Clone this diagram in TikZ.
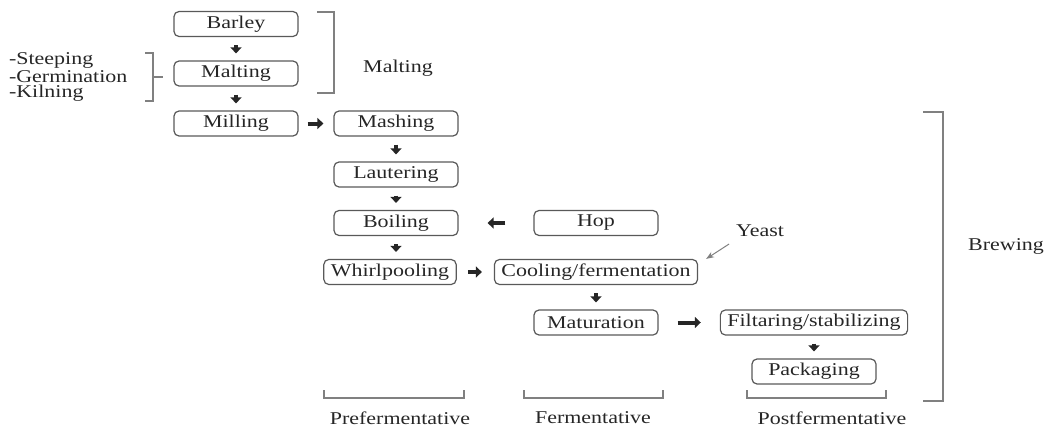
\documentclass[tikz,border=0pt]{standalone}
\usepackage{fontspec}
\setmainfont{Liberation Serif}[FakeStretch=1.22]
\usetikzlibrary{arrows.meta}
\definecolor{boxgray}{gray}{0.35}
\definecolor{txtgray}{gray}{0.15}

\begin{document}
\begin{tikzpicture}[x=0.5pt,y=-0.5pt,
    every node/.style={font=\fontsize{9}{7}\selectfont, text=txtgray},
    proc/.style={draw=boxgray, line width=0.6pt, rounded corners=2.5pt, minimum width=62pt, minimum height=12.5pt, inner xsep=3.5pt, inner ysep=0pt},
    blk/.style={line width=2pt, -{Triangle[length=3pt,width=5.5pt]}, draw=black!85},
    dn/.style={blk, shorten <=4pt, shorten >=3.5pt},
    brk/.style={draw=gray, line width=0.6pt}]
    \useasboundingbox (0,0) rectangle (1051,428);

% malting part
\node[proc] (barley) at (236,24) {Barley};
\node[proc] (malting) at (236,73.5) {Malting};
\node[proc] (milling) at (236,123.5) {Milling};
\node[anchor=west, align=left, font=\fontsize{9}{7.8}\selectfont] (steps) at (2,77) {-Steeping\\-Germination\\-Kilning};
\node (maltlabel) at (398,68) {Malting};

% brewing part
\node[proc] (mashing) at (396,123.5) {Mashing};
\node[proc] (lautering) at (396,174.5) {Lautering};
\node[proc] (boiling) at (396,223) {Boiling};
\node[proc] (hop) at (596,223) {Hop};
\node[proc] (whirl) at (390,272) {Whirlpooling};
\node[proc] (cooling) at (596,272) {Cooling/fermentation};
\node[proc] (maturation) at (596,322.5) {Maturation};
\node[proc] (filtaring) at (814,322.5) {Filtaring/stabilizing};
\node[proc] (packaging) at (814,371.5) {Packaging};
\node (yeast) at (760,231) {Yeast};
\node (brewlabel) at (1006,246) {Brewing};

\node (pref) at (400,418) {Prefermentative};
\node (ferm) at (593,418) {Fermentative};
\node (post) at (832,418) {Postfermentative};

\draw[dn] (barley) -- (malting);
\draw[dn] (malting) -- (milling);
\draw[dn] (mashing) -- (lautering);
\draw[dn] (lautering) -- (boiling);
\draw[dn] (boiling.south) -- (boiling.south |- whirl.north);
\draw[dn] (cooling) -- (maturation);
\draw[dn] (filtaring) -- (packaging);
\draw[blk, shorten <=4.5pt, shorten >=5pt] (milling) -- (mashing);
\draw[blk, shorten <=14pt, shorten >=14.5pt] (hop) -- (boiling);
\draw[blk, shorten <=5.5pt, shorten >=6pt] (whirl) -- (cooling);
\draw[blk, shorten <=9.5pt, shorten >=9.5pt] (maturation) -- (filtaring);
\draw[draw=gray, line width=0.5pt, -{Stealth[length=4pt,width=3pt]}] (yeast.south west) -- ([xshift=4pt]cooling.north east);

% brackets
\draw[brk] (317,12) -- (334,12) -- (334,93) -- (317,93);
\draw[brk] (923,112) -- (943,112) -- (943,401) -- (923,401);
\draw[brk] (145,53) -- (153,53) -- (153,101) -- (145,101);
\draw[brk] (153,77) -- (163,77);
\foreach \a/\b in {324/464, 524/663, 747/886}
    \draw[brk] (\a,390) -- (\a,398) -- (\b,398) -- (\b,390);

\end{tikzpicture}
\end{document}
